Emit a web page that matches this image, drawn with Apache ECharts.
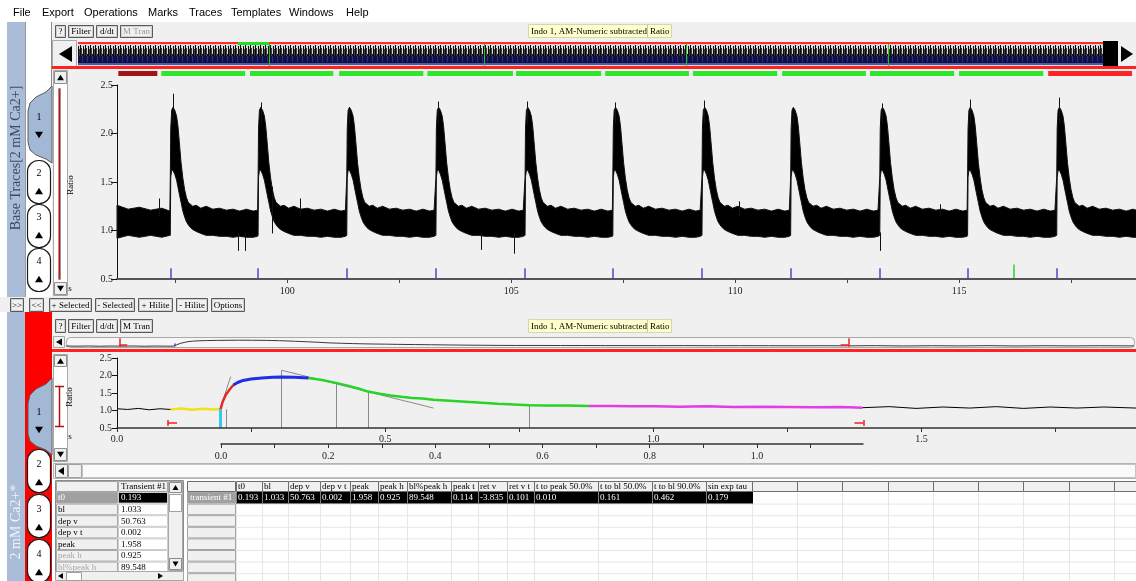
<!DOCTYPE html>
<html>
<head>
<meta charset="utf-8">
<title>Transient analysis</title>
<script src="https://cdn.jsdelivr.net/npm/echarts@6.0.0/dist/echarts.min.js"></script>
<style>
html,body{margin:0;padding:0;background:#fff;overflow:hidden}
#view{width:1136px;height:581px}
</style>
</head>
<body>
<div id="view"></div>
<script>
// ---------- recorded data ----------
// beat onsets (s) and the tallest sample of each beat (ratio)
const beatOnsets = [97.39, 99.35, 101.33, 103.32, 105.31, 107.27, 109.26, 111.24, 113.23, 115.19, 117.18];
const beatPeaks  = [2.41, 2.32, 2.27, 2.33, 2.33, 2.32, 2.34, 2.20, 2.31, 2.35, 2.37];
const extraMarks = [116.22];

// envelope of the raw trace within one beat: time after onset, upper and lower edge of the noise band
const beatDt    = [0.00, 0.01, 0.03, 0.06, 0.10, 0.14, 0.17, 0.20, 0.24, 0.28, 0.32, 0.36, 0.40, 0.45, 0.50, 0.58, 0.68, 0.80, 0.95, 1.10, 1.25, 1.40, 1.55, 1.70, 1.85, 1.95];
const beatUpper = [1.55, 2.05, 2.24, 2.27, 2.24, 2.18, 2.08, 1.92, 1.70, 1.54, 1.42, 1.34, 1.29, 1.27, 1.25, 1.26, 1.23, 1.25, 1.22, 1.23, 1.21, 1.22, 1.20, 1.22, 1.20, 1.21];
const beatLower = [0.95, 1.55, 1.62, 1.62, 1.58, 1.52, 1.45, 1.38, 1.29, 1.20, 1.14, 1.09, 1.06, 1.03, 1.01, 0.99, 0.97, 0.95, 0.95, 0.94, 0.94, 0.93, 0.94, 0.93, 0.93, 0.94];

// resting band before the first beat
const leadTime  = [96.20, 96.45, 96.70, 96.95, 97.20, 97.38];
const leadUpper = [1.26, 1.22, 1.24, 1.21, 1.23, 1.20];
const leadLower = [0.92, 0.95, 0.93, 0.95, 0.93, 0.95];

// isolated noise spikes: time, band level, spike tip
const spikeTime = [97.15, 98.91, 99.07, 99.66, 100.29, 104.34, 105.06, 110.10, 113.23, 114.58];
const spikeFrom = [1.15, 0.98, 0.98, 1.45, 1.15, 0.98, 0.98, 1.15, 0.98, 1.15];
const spikeTo   = [1.33, 0.79, 0.79, 0.97, 1.33, 0.80, 0.76, 1.30, 0.79, 1.27];

// transient windows shown above the trace
const windowStart = [96.23, 97.19, 99.17, 101.16, 103.13, 105.11, 107.10, 109.06, 111.05, 113.01, 115.00, 116.99];
const windowEnd   = [97.10, 99.06, 101.03, 103.04, 105.04, 107.01, 108.97, 110.94, 112.92, 114.89, 116.88, 118.86];
const windowState = ['done', 'ok', 'ok', 'ok', 'ok', 'ok', 'ok', 'ok', 'ok', 'ok', 'ok', 'current'];

// axis ticks
const traceTicks  = [97.5, 100, 102.5, 105, 107.5, 110, 112.5, 115, 117.5];
const traceLabels = [100, 105, 110, 115];
const transTicks  = [0, 0.25, 0.5, 0.75, 1.0, 1.25, 1.5, 1.75];
const transLabels = [0, 0.5, 1.0, 1.5];
const relTicks    = [0, 0.1, 0.2, 0.3, 0.4, 0.5, 0.6, 0.7, 0.8, 0.9, 1.0, 1.1];
const relLabels   = [0, 0.2, 0.4, 0.6, 0.8, 1.0];

// averaged transient (s, ratio)
const rawTime  = [0.00, 0.02, 0.04, 0.06, 0.08, 0.10, 0.12, 0.14, 0.16, 0.18,
                  0.193, 0.197, 0.203, 0.210, 0.217, 0.225, 0.235, 0.25, 0.27, 0.29,
                  0.307, 0.33, 0.357, 0.38, 0.408, 0.43, 0.45, 0.468, 0.49, 0.51,
                  0.53, 0.55, 0.57, 0.59, 0.62, 0.65, 0.68, 0.71, 0.74, 0.769,
                  0.80, 0.84, 0.88, 0.92, 0.96, 1.00, 1.05, 1.10, 1.15, 1.20,
                  1.25, 1.30, 1.35, 1.39, 1.44, 1.49, 1.54, 1.59, 1.64, 1.69,
                  1.74, 1.79, 1.84, 1.90];
const rawRatio = [1.05, 1.03, 1.06, 1.02, 1.05, 1.03, 1.06, 1.02, 1.05, 1.03,
                  1.033, 1.25, 1.45, 1.60, 1.73, 1.80, 1.86, 1.90, 1.93, 1.95,
                  1.958, 1.95, 1.93, 1.88, 1.79, 1.71, 1.63, 1.54, 1.48, 1.43,
                  1.39, 1.36, 1.34, 1.31, 1.28, 1.25, 1.22, 1.19, 1.17, 1.15,
                  1.14, 1.14, 1.13, 1.13, 1.12, 1.12, 1.11, 1.12, 1.10, 1.11,
                  1.10, 1.09, 1.10, 1.08, 1.11, 1.06, 1.10, 1.07, 1.11, 1.06,
                  1.10, 1.07, 1.10, 1.07];

// analysis phases of the transient: start, end
const phaseStart = [0.10, 0.193, 0.217, 0.357, 0.88];
const phaseEnd   = [0.193, 0.217, 0.357, 0.88, 1.39];
const phaseNames = ['baseline', 'rise', 'peak', 'decay', 'return'];

// analysis window bounds (s)
const windowBounds = [0.095, 1.392];
// fitted guide lines
const riseGuide  = [[0.192, 1.03], [0.212, 1.97]];
const decayGuide = [[0.307, 2.15], [0.59, 1.07]];
const markerTops = [2.15, 1.79, 1.53, 1.15];

// measured parameters of transient #1
const paramNames  = ['t0', 'bl', 'dep v', 'dep v t', 'peak', 'peak h', 'bl%peak h'];
const colHeaders  = ['t0', 'bl', 'dep v', 'dep v t', 'peak', 'peak h', 'bl%peak h', 'peak t', 'ret v', 'ret v t',
                     't to peak 50.0%', 't to bl 50.0%', 't to bl 90.0%', 'sin exp tau'];
const paramValues = [0.193, 1.033, 50.763, 0.002, 1.958, 0.925, 89.548, 0.114, -3.835, 0.101, 0.010, 0.161, 0.462, 0.179];

const menuItems = ['File', 'Export', 'Operations', 'Marks', 'Traces', 'Templates', 'Windows', 'Help'];

// ---------- layout and styling ----------
const SERIF = '"Liberation Serif","DejaVu Serif",serif';
const SANS = '"Liberation Sans","DejaVu Sans",sans-serif';
const F10 = '10px ' + SERIF;
const F9 = '9px ' + SERIF;
const MENU_X = [13, 42, 84, 148, 189, 231, 289, 346];
const COL_EDGES = [236, 262, 288, 320, 350, 378, 407, 451, 478, 507, 534, 598, 652, 706, 752, 797, 842, 888, 933, 978, 1023, 1069, 1114, 1159];
const ROW_H = 11.6;
const PHASE_COLORS = ['#f2e21c', '#e42a22', '#1f2fe6', '#28d428', '#e23ee6'];
const STATE_COLORS = {done: '#a11414', ok: '#2ee62e', current: '#ff2424'};

const P = name => paramValues[colHeaders.indexOf(name)];
const t0 = P('t0'), peakT = P('peak t');

const G = [];
function rect(x, y, w, h, fill, stroke, lw, z, r) {
  const off = stroke ? 0.5 : 0;
  G.push({type: 'rect', silent: true, z: z || 1,
    shape: {x: x + off, y: y + off, width: w - 2 * off, height: h - 2 * off, r: r || 0},
    style: {fill: fill || 'none', stroke: stroke || 'none', lineWidth: lw || 1}});
}
function seg(x1, y1, x2, y2, stroke, lw, z) {
  G.push({type: 'line', silent: true, z: z || 3, shape: {x1, y1, x2, y2}, style: {stroke, lineWidth: lw || 1}});
}
function txt(x, y, s, font, fill, align, valign, z, rot) {
  G.push({type: 'text', silent: true, z: z || 6, x, y, rotation: rot || 0,
    style: {text: s, font, fill: fill || '#000', align: align || 'left', verticalAlign: valign || 'middle',
            textAlign: align || 'left', textVerticalAlign: valign || 'middle'}});
}
function poly(points, fill, z, stroke) {
  G.push({type: 'polygon', silent: true, z: z || 5, shape: {points},
    style: {fill, stroke: stroke || 'none', lineWidth: 1}});
}
function tri(cx, cy, s, dir, z) {
  const h = s / 2;
  const m = {
    up: [[cx, cy - h * 0.8], [cx - h, cy + h * 0.8], [cx + h, cy + h * 0.8]],
    down: [[cx, cy + h * 0.8], [cx - h, cy - h * 0.8], [cx + h, cy - h * 0.8]]
  };
  poly(m[dir], '#000', z || 7);
}
function btn(x, y, w, h, label, color) {
  rect(x, y, w, h, '#f0f0f0', '#5a5a5a', 1, 4);
  rect(x + 1, y + 1, w - 2, h - 2, 'none', '#cfcfcf', 1, 4);
  txt(x + w / 2, y + h / 2 + 0.5, label, F9, color || '#000', 'center', 'middle', 6);
}

// texture for the whole-recording thumbnail strip
function thumbTile() {
  const c = document.createElement('canvas');
  c.width = 5; c.height = 22;
  const g = c.getContext('2d');
  g.fillStyle = '#d8d8d8'; g.fillRect(0, 0, 5, 22);
  g.fillStyle = '#101040'; g.fillRect(0, 10, 5, 9);
  g.fillStyle = '#4a5aa8'; g.fillRect(0, 19, 5, 2);
  g.fillStyle = '#0a0a0a'; g.fillRect(0, 1, 1, 11); g.fillRect(3, 2, 1, 10);
  g.fillStyle = '#3c3c3c'; g.fillRect(1, 4, 1, 8); g.fillRect(4, 5, 1, 7);
  g.fillStyle = '#2c2c90'; g.fillRect(2, 12, 1, 6);
  return c;
}

// ---- window chrome ----
rect(0, 0, 1136, 22, '#ffffff', null, 1, 0);
menuItems.forEach((m, i) => txt(MENU_X[i], 13, m, '11px ' + SANS, '#000', 'left', 'middle', 6));

// upper panel
rect(52, 22, 1084, 275, '#f0f0f0', null, 1, 0);
rect(7, 22, 18, 275, '#a9bdd8', null, 1, 1);
rect(25, 22, 27, 275, '#ffffff', null, 1, 1);
seg(25.5, 22, 25.5, 297, '#9a9a9a', 1, 2);
seg(51.5, 22, 51.5, 86, '#8a8a8a', 1, 2);
txt(16, 158, 'Base Traces[2 mM Ca2+]', '14px ' + SERIF, '#3b4a66', 'center', 'middle', 6, Math.PI / 2);
poly([[52, 86], [46, 92], [36, 97], [30, 103], [28, 111], [28, 142], [30, 150], [36, 155], [46, 159], [52, 163]], '#a3b8d5', 3, '#5a5a5a');
txt(39, 117, '1', F10, '#000', 'center', 'middle', 6);
tri(39, 135, 8, 'down');
[160, 204, 248].forEach((top, i) => {
  rect(27, top, 24, 44, '#ffffff', '#1a1a1a', 1.2, 4, 11);
  txt(39, top + 13, String(i + 2), F10, '#000', 'center', 'middle', 6);
  tri(39, top + 31, 8, 'up');
});

btn(55, 25, 11, 13, '?');
btn(68, 25, 26, 13, 'Filter');
btn(96, 25, 22, 13, 'd/dt');
btn(120, 25, 33, 13, 'M Tran', '#9a9a9a');
rect(528, 24, 144, 14, '#ffffcc', '#d6d6b4', 1, 3);
seg(647.5, 25, 647.5, 37, '#c8c8a8', 1, 4);
txt(531, 31.5, 'Indo 1, AM-Numeric subtracted', F9, '#000', 'left', 'middle', 6);
txt(650, 31.5, 'Ratio', F9, '#000', 'left', 'middle', 6);

// whole-recording thumbnail
rect(52, 40, 25, 28, '#f0f0f0', '#a8a8a8', 1, 2);
poly([[59, 54], [72, 46], [72, 62]], '#000', 7);
G.push({type: 'rect', silent: true, z: 2, shape: {x: 78, y: 44, width: 1025, height: 22},
  style: {fill: {image: thumbTile(), repeat: 'repeat'}}});
rect(78, 42, 1025, 2, '#ff2c2c', null, 1, 3);
rect(238, 42, 31, 3, '#22dd22', null, 1, 4);
[269, 484, 686, 888].forEach(x => seg(x + 0.5, 44, x + 0.5, 66, '#1fc21f', 1, 4));
rect(1103, 41, 15, 28, '#000000', null, 1, 4);
poly([[1121, 46], [1121, 62], [1133, 54]], '#000', 7);
rect(52, 66, 1084, 3, '#ff2222', null, 1, 5);

// vertical scroller of the upper panel
rect(53, 70, 15, 226, '#ffffff', '#a8a8a8', 1, 2);
rect(54, 71, 13, 13, '#f0f0f0', '#909090', 1, 3);
tri(60.5, 77.5, 7, 'up');
rect(54, 282, 13, 13, '#f0f0f0', '#909090', 1, 3);
tri(60.5, 288.5, 7, 'down');
rect(58, 88, 3, 192, '#c41212', '#8c8c8c', 0.6, 3);
txt(71, 185, 'Ratio', F9, '#000', 'center', 'middle', 6, Math.PI / 2);
txt(70, 289, 's', F9, '#000', 'center', 'middle', 6);

// button row
rect(0, 297, 1136, 15, '#f0f0f0', null, 1, 0);
btn(10, 298, 14, 14, '>>');
btn(29, 298, 15, 14, '<<');
btn(49, 298, 43, 14, '+ Selected');
btn(95, 298, 40, 14, '- Selected');
btn(138, 298, 35, 14, '+ Hilite');
btn(176, 298, 32, 14, '- Hilite');
btn(211, 298, 34, 14, 'Options');

// lower panel
rect(52, 312, 1084, 151, '#f0f0f0', null, 1, 0);
rect(7, 312, 18, 269, '#a9bdd8', null, 1, 1);
rect(25, 312, 27, 269, '#ff0000', null, 1, 1);
txt(16, 522, '2 mM Ca2+*', '14px ' + SERIF, '#eef2fa', 'center', 'middle', 6, Math.PI / 2);
poly([[52, 378], [46, 384], [36, 389], [30, 395], [28, 403], [28, 434], [30, 441], [36, 446], [46, 450], [52, 455]], '#a3b8d5', 3, '#5a5a5a');
txt(39, 412, '1', F10, '#000', 'center', 'middle', 6);
tri(39, 430, 8, 'down');
[449, 494, 539].forEach((top, i) => {
  rect(27, top, 24, 44, '#ffffff', '#1a1a1a', 1.2, 4, 11);
  txt(39, top + 15, String(i + 2), F10, '#000', 'center', 'middle', 6);
  tri(39, top + 33, 8, 'up');
});

btn(55, 319, 11, 14, '?');
btn(68, 319, 26, 14, 'Filter');
btn(96, 319, 22, 14, 'd/dt');
btn(120, 319, 33, 14, 'M Tran');
rect(528, 319, 144, 14, '#ffffcc', '#d6d6b4', 1, 3);
seg(647.5, 320, 647.5, 332, '#c8c8a8', 1, 4);
txt(531, 326.5, 'Indo 1, AM-Numeric subtracted', F9, '#000', 'left', 'middle', 6);
txt(650, 326.5, 'Ratio', F9, '#000', 'left', 'middle', 6);

rect(53, 336, 12, 12, '#f0f0f0', '#a8a8a8', 1, 2);
poly([[56, 342], [62, 338.5], [62, 345.5]], '#000', 7);
rect(66, 337, 1069, 11, '#f6f6f6', '#a8a8a8', 1, 1, 4);
rect(52, 349, 1084, 3, '#ff2222', null, 1, 5);

rect(53, 354, 15, 108, '#ffffff', '#a8a8a8', 1, 2);
rect(54, 355, 13, 12, '#f0f0f0', '#909090', 1, 3);
tri(60.5, 361, 7, 'up');
rect(54, 448, 13, 13, '#f0f0f0', '#909090', 1, 3);
tri(60.5, 454.5, 7, 'down');
seg(59.5, 386, 59.5, 427, '#b01010', 1.5, 4);
seg(55, 386.5, 64, 386.5, '#b01010', 1.5, 4);
seg(55, 426.5, 64, 426.5, '#b01010', 1.5, 4);
txt(70, 397, 'Ratio', F9, '#000', 'center', 'middle', 6, Math.PI / 2);
txt(70, 437, 's', F9, '#000', 'center', 'middle', 6);

// horizontal scroller under the transient
rect(53, 463, 1083, 16, '#f0f0f0', '#b4b4b4', 1, 2);
rect(55, 464, 13, 14, '#f0f0f0', '#909090', 1, 3);
poly([[58, 471], [64, 467], [64, 475]], '#000', 7);
rect(68, 464, 14, 14, '#f0f0f0', '#a0a0a0', 1, 3);
rect(82, 464, 1054, 14, '#fafafa', '#c4c4c4', 1, 3);

// ---- parameter tables ----
const fmt = v => v.toFixed(3);
rect(52, 479, 1084, 102, '#ffffff', null, 1, 1);

// single transient, one parameter per row
rect(55, 480, 129, 101, '#ffffff', '#8c8c8c', 1, 2);
rect(56, 481, 62, 11, '#f0f0f0', '#a4a4a4', 1, 3);
rect(118, 481, 50, 11, '#f0f0f0', '#a4a4a4', 1, 3);
txt(121, 487, 'Transient #1', F9, '#000', 'left', 'middle', 6);
paramNames.forEach((n, i) => {
  const y = 492 + i * ROW_H;
  rect(56, y, 62, ROW_H, i === 0 ? '#a0a0a0' : '#f0f0f0', '#a8a8a8', 1, 3);
  rect(118, y, 50, ROW_H, i === 0 ? '#000000' : '#ffffff', '#cccccc', 1, 3);
  txt(58, y + 6, n, F9, i === 0 ? '#ffffff' : (i >= 5 ? '#a8a8a8' : '#000'), 'left', 'middle', 6);
  txt(121, y + 6, fmt(paramValues[i]), F9, i === 0 ? '#ffffff' : '#000', 'left', 'middle', 6);
});
rect(168, 481, 15, 90, '#f0f0f0', '#a8a8a8', 1, 4);
rect(169, 482, 13, 11, '#f0f0f0', '#8c8c8c', 1, 5);
tri(175.5, 487.5, 6, 'up');
rect(169, 494, 13, 18, '#ffffff', '#a0a0a0', 1, 5);
rect(169, 558, 13, 12, '#f0f0f0', '#8c8c8c', 1, 5);
tri(175.5, 564, 6, 'down');
rect(55, 571, 129, 10, '#f0f0f0', '#a8a8a8', 1, 7);
poly([[58, 576], [63, 573], [63, 579]], '#000', 8);
rect(66, 572, 16, 9, '#ffffff', '#a0a0a0', 1, 8);
poly([[163, 576], [158, 573], [158, 579]], '#000', 8);

// all transients, one per row
rect(186, 480, 950, 101, '#ffffff', null, 1, 1);
for (let r = 1; r <= 8; r++) seg(236, 492 + r * ROW_H + 0.5, 1136, 492 + r * ROW_H + 0.5, '#e6e6e6', 1, 2);
COL_EDGES.forEach(e => seg(e + 0.5, 492, e + 0.5, 581, '#e6e6e6', 1, 2));
rect(187, 481, 49, 11, '#f0f0f0', '#6e6e6e', 1, 3);
for (let c = 0; c < COL_EDGES.length - 1; c++) {
  const x = COL_EDGES[c], w = COL_EDGES[c + 1] - x;
  rect(x, 481, w + 1, 11, '#f0f0f0', '#6e6e6e', 1, 3);
  if (c < colHeaders.length) txt(x + 2, 487, colHeaders[c], F9, '#000', 'left', 'middle', 6);
}
for (let r = 0; r < 8; r++) {
  const y = 492 + r * ROW_H;
  rect(187, y, 49, ROW_H, r === 0 ? '#a0a0a0' : '#f0f0f0', '#a4a4a4', 1, 3);
}
txt(190, 498, 'transient #1', F9, '#ffffff', 'left', 'middle', 6);
rect(236, 492, COL_EDGES[colHeaders.length] - 236 + 1, ROW_H, '#000000', null, 1, 4);
colHeaders.forEach((h, c) => {
  seg(COL_EDGES[c] + 0.5, 492, COL_EDGES[c] + 0.5, 492 + ROW_H, '#808080', 1, 5);
  txt(COL_EDGES[c] + 2, 498, fmt(paramValues[c]), F9, '#ffffff', 'left', 'middle', 6);
});

// ---------- series ----------
// noise band of the recorded trace
const bandUp = [], bandLo = [];
leadTime.forEach((t, i) => { bandUp.push([t, leadUpper[i]]); bandLo.push([t, leadLower[i]]); });
beatOnsets.forEach((on, b) => {
  const next = b + 1 < beatOnsets.length ? beatOnsets[b + 1] : Infinity;
  beatDt.forEach((d, i) => {
    if (on + d < next - 0.005) { bandUp.push([on + d, beatUpper[i]]); bandLo.push([on + d, beatLower[i]]); }
  });
});

const spikeLines = spikeTime.map((t, i) => ({coords: [[t, spikeFrom[i]], [t, spikeTo[i]]]}))
  .concat(beatOnsets.map((on, i) => ({coords: [[on + 0.06, 2.1], [on + 0.06, beatPeaks[i]]]})));
const onsetMarks = beatOnsets.map(on => ({coords: [[on, 0.5], [on, 0.61]], lineStyle: {color: '#4a4ac8'}}))
  .concat(extraMarks.map(t => ({coords: [[t, 0.5], [t, 0.65]], lineStyle: {color: '#30d030'}})));
const windowBars = windowStart.map((s, i) => ({coords: [[s, 0.5], [windowEnd[i], 0.5]],
  lineStyle: {color: STATE_COLORS[windowState[i]]}}));

const rawTrace = rawTime.map((t, i) => [t, rawRatio[i]]);
const phaseSeries = phaseNames.map((n, k) => ({
  type: 'line', name: n, xAxisIndex: 3, yAxisIndex: 3, showSymbol: false, silent: true, z: 4,
  data: rawTrace.filter(p => p[0] >= phaseStart[k] - 1e-9 && p[0] <= phaseEnd[k] + 1e-9),
  lineStyle: {color: PHASE_COLORS[k], width: k === 2 ? 3 : 2.5}
}));

const markerTimes = [t0 + peakT, t0 + peakT + P('ret v t'), t0 + peakT + P('t to bl 50.0%'), t0 + peakT + P('t to bl 90.0%')];
const guideLines = markerTimes.map((t, i) => ({coords: [[t, 0.5], [t, markerTops[i]]]}))
  .concat([{coords: [[t0 + P('t to peak 50.0%'), 0.5], [t0 + P('t to peak 50.0%'), P('bl')]]},
           {coords: riseGuide}, {coords: decayGuide}]);

function bracketLines(half) {
  return windowBounds.map((t, i) => {
    const dir = i === 0 ? 1 : -1;
    return [{coords: [[t, 0.645 - half], [t, 0.645 + half]]}, {coords: [[t, 0.645], [t + dir * 0.017, 0.645]]}];
  }).flat();
}

const axisFont = {fontFamily: SERIF, fontSize: 10, color: '#222'};

const option = {
  animation: false,
  backgroundColor: '#ffffff',
  graphic: {elements: G},
  grid: [
    {left: 117, top: 85, width: 1019, height: 194},
    {left: 117, top: 71, width: 1019, height: 5},
    {left: 66, top: 338, width: 1068, height: 9},
    {left: 117, top: 358, width: 1019, height: 70},
    {left: 221, top: 434, width: 642, height: 10}
  ],
  xAxis: [
    {type: 'value', gridIndex: 0, min: 96.2, max: 118.95, z: 8,
     axisLine: {lineStyle: {color: '#555', width: 2}},
     axisTick: {customValues: traceTicks, length: 4, lineStyle: {color: '#444'}},
     axisLabel: Object.assign({customValues: traceLabels, margin: 7, formatter: v => String(v)}, axisFont),
     splitLine: {show: false}},
    {type: 'value', gridIndex: 1, min: 96.2, max: 118.95, show: false},
    {type: 'value', gridIndex: 2, min: 0, max: 1.9, show: false},
    {type: 'value', gridIndex: 3, min: 0, max: 1.9, z: 8,
     axisLine: {lineStyle: {color: '#333', width: 1.5}},
     axisTick: {customValues: transTicks, length: 4, lineStyle: {color: '#333'}},
     axisLabel: Object.assign({customValues: transLabels, margin: 6, formatter: v => v.toFixed(1)}, axisFont),
     splitLine: {show: false}},
    {type: 'value', gridIndex: 4, min: 0, max: 1.198, z: 8,
     axisLine: {lineStyle: {color: '#333', width: 1.5}},
     axisTick: {customValues: relTicks, length: 4, lineStyle: {color: '#333'}},
     axisLabel: Object.assign({customValues: relLabels, margin: 7, formatter: v => v.toFixed(1)}, axisFont),
     splitLine: {show: false}}
  ],
  yAxis: [
    {type: 'value', gridIndex: 0, min: 0.5, max: 2.5, interval: 0.5, z: 8,
     axisLine: {show: true, lineStyle: {color: '#111', width: 1}},
     axisTick: {show: true, length: 6, lineStyle: {color: '#111'}},
     axisLabel: Object.assign({margin: 4, formatter: v => v.toFixed(1)}, axisFont),
     splitLine: {show: false}},
    {type: 'value', gridIndex: 1, min: 0, max: 1, show: false},
    {type: 'value', gridIndex: 2, min: 0.9, max: 2.3, show: false},
    {type: 'value', gridIndex: 3, min: 0.5, max: 2.5, interval: 0.5, z: 8,
     axisLine: {show: true, lineStyle: {color: '#111', width: 1}},
     axisTick: {show: true, length: 5, lineStyle: {color: '#111'}},
     axisLabel: Object.assign({margin: 5, formatter: v => v.toFixed(1)}, axisFont),
     splitLine: {show: false}},
    {type: 'value', gridIndex: 4, min: 0, max: 1, show: false}
  ],
  series: [
    {type: 'custom', xAxisIndex: 0, yAxisIndex: 0, silent: true, z: 2,
     data: [[beatOnsets[0], 1]],
     renderItem: (params, api) => {
       const pts = bandUp.map(p => api.coord(p)).concat(bandLo.slice().reverse().map(p => api.coord(p)));
       return {type: 'polygon', shape: {points: pts}, style: {fill: '#000', stroke: '#111', lineWidth: 1}};
     }},
    {type: 'lines', coordinateSystem: 'cartesian2d', xAxisIndex: 0, yAxisIndex: 0, silent: true, z: 3,
     data: spikeLines, lineStyle: {color: '#111', width: 1, opacity: 1}},
    {type: 'lines', coordinateSystem: 'cartesian2d', xAxisIndex: 0, yAxisIndex: 0, silent: true, z: 3,
     data: onsetMarks, lineStyle: {width: 1.5, opacity: 1}},
    {type: 'lines', coordinateSystem: 'cartesian2d', xAxisIndex: 1, yAxisIndex: 1, silent: true, z: 3,
     data: windowBars, lineStyle: {width: 5, opacity: 1}},
    // thumbnail of the transient
    {type: 'line', xAxisIndex: 2, yAxisIndex: 2, data: rawTrace, showSymbol: false, silent: true, z: 3,
     lineStyle: {color: '#3a3a3a', width: 1}},
    {type: 'lines', coordinateSystem: 'cartesian2d', xAxisIndex: 2, yAxisIndex: 2, silent: true, z: 4,
     data: [{coords: [[t0, 1.0], [t0, 1.45]]}], lineStyle: {color: '#3040c0', width: 1.5, opacity: 1}},
    {type: 'lines', coordinateSystem: 'cartesian2d', xAxisIndex: 2, yAxisIndex: 2, silent: true, z: 4,
     data: windowBounds.map((t, i) => [{coords: [[t, 0.95], [t, 2.25]]}, {coords: [[t, 1.3], [t + (i === 0 ? 0.014 : -0.014), 1.3]]}]).flat(),
     lineStyle: {color: '#ee2222', width: 1.5, opacity: 1}},
    // analysed transient
    {type: 'line', xAxisIndex: 3, yAxisIndex: 3, data: rawTrace, showSymbol: false, silent: true, z: 3,
     lineStyle: {color: '#000', width: 1}},
    {type: 'lines', coordinateSystem: 'cartesian2d', xAxisIndex: 3, yAxisIndex: 3, silent: true, z: 3,
     data: guideLines, lineStyle: {color: '#8a8a8a', width: 1, opacity: 1}},
    ...phaseSeries,
    {type: 'lines', coordinateSystem: 'cartesian2d', xAxisIndex: 3, yAxisIndex: 3, silent: true, z: 5,
     data: [{coords: [[t0, 0.5], [t0, P('bl')]]}], lineStyle: {color: '#33c8ee', width: 3, opacity: 1}},
    {type: 'lines', coordinateSystem: 'cartesian2d', xAxisIndex: 3, yAxisIndex: 3, silent: true, z: 5,
     data: bracketLines(0.085), lineStyle: {color: '#ee2222', width: 1.5, opacity: 1}}
  ]
};

const chart = echarts.init(document.getElementById('view'), null, {renderer: 'canvas'});
chart.setOption(option);
</script>
</body>
</html>
